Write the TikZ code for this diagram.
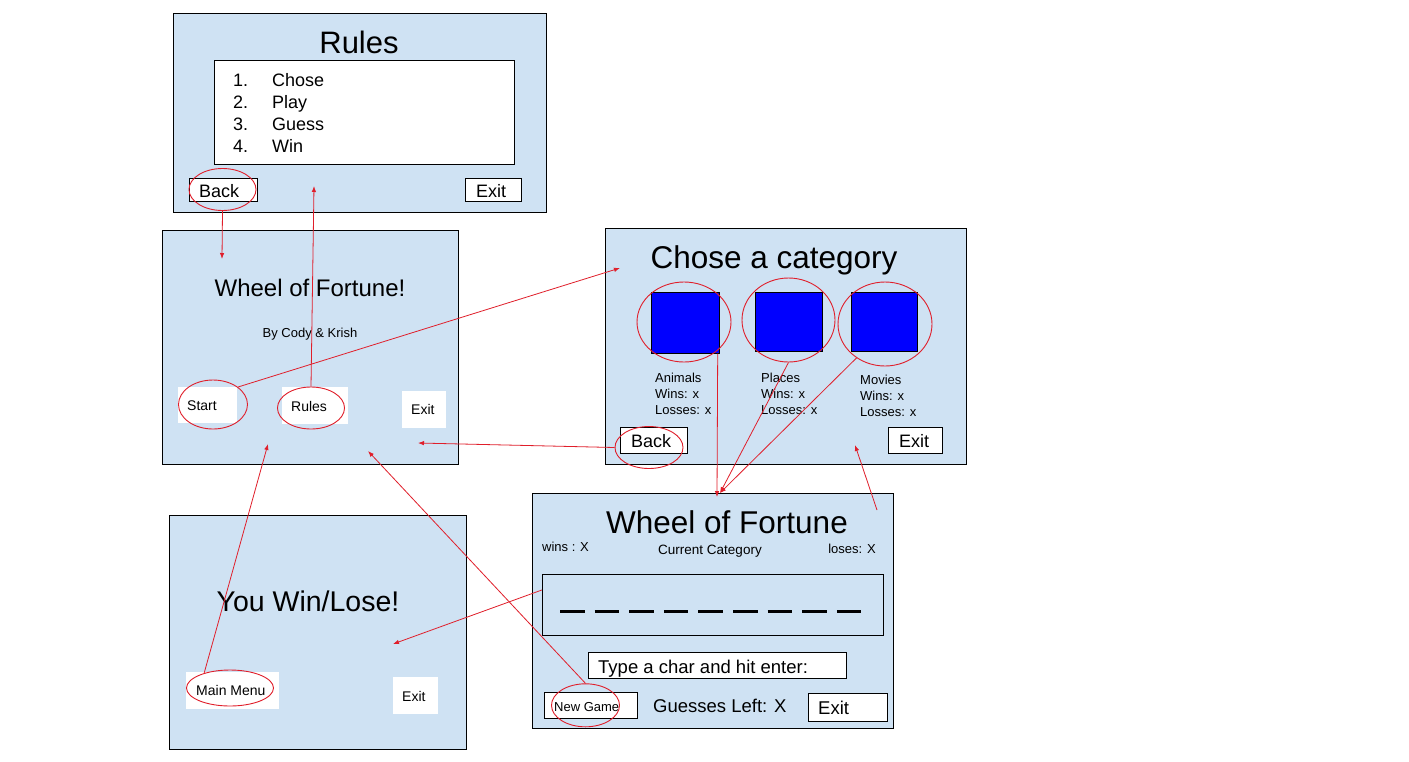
\documentclass[tikz,border=0pt]{standalone}
\usepackage{fontspec}
\setmainfont{Liberation Sans}
\usetikzlibrary{shapes.geometric,arrows.meta}
\definecolor{paneblue}{RGB}{207,226,243}
\definecolor{markred}{RGB}{224,30,42}

\tikzset{
  panel/.style={draw=black,fill=paneblue,line width=0.9pt,anchor=north west,inner sep=0pt},
  box/.style={draw=black,fill=white,line width=0.9pt,anchor=north west,inner sep=0pt},
  pad/.style={fill=white,anchor=north west,inner sep=0pt},
  tile/.style={draw=black,fill=blue,line width=0.7pt,anchor=north west,inner sep=0pt},
  ring/.style={ellipse,draw=markred,line width=0.9pt,inner sep=0pt},
  link/.style={draw=markred,line width=0.8pt,-{Latex[length=6pt,width=4.5pt]}},
  txt/.style={inner sep=0pt,font=\fontsize{#1}{#1}\selectfont},
  stats/.style={inner sep=0pt,anchor=north west,align=left,font=\fontsize{13}{16}\selectfont},
}

\begin{document}
\begin{tikzpicture}[x=1pt,y=-1pt]
\path[fill=white] (0,0) rectangle (1409,761);

% rules screen
\node[panel,minimum width=373,minimum height=199] (rulesP) at (173,13) {};
\node[txt=31,anchor=base] (rulesT) at (359,53) {Rules};
\node[box,minimum width=300,minimum height=104] (ruleList) at (214,60) {};
\foreach \w [count=\i] in {Chose,Play,Guess,Win}{
  \node[txt=18,anchor=base west] (num\i) at (233,64+22*\i) {\i.};
  \node[txt=18,anchor=base west] (rule\i) at (272,64+22*\i) {\w};
}
\node[box,minimum width=68,minimum height=23] (rBackB) at (189,178) {};
\node[txt=18,anchor=base west] (rBackT) at (199,197) {Back};
\node[box,minimum width=56,minimum height=23] (rExitB) at (465,178) {};
\node[txt=18,anchor=base west] (rExitT) at (476,197) {Exit};
\node[ring,minimum width=67,minimum height=42] (rBack) at (222.5,189.5) {};

% main menu
\node[panel,minimum width=296,minimum height=234] (menuP) at (162,230) {};
\node[txt=24,anchor=base] (menuT) at (310,296) {Wheel of Fortune!};
\node[txt=13,anchor=base] (menuBy) at (310,337) {By Cody \& Krish};
\node[pad,minimum width=59,minimum height=36] (startB) at (178,387) {};
\node[txt=14,anchor=base west] (startT) at (187,410) {Start};
\node[pad,minimum width=66,minimum height=37] (rulesB) at (282,387) {};
\node[txt=14,anchor=base west] (rulesBT) at (291,411) {Rules};
\node[pad,minimum width=44,minimum height=37] (mExitB) at (402,391) {};
\node[txt=14,anchor=base west] (mExitT) at (411,414) {Exit};
\node[ring,minimum width=69,minimum height=49] (start) at (213,404.5) {};
\node[ring,minimum width=67,minimum height=42] (rules) at (311,408) {};

% category screen
\node[panel,minimum width=361,minimum height=236] (catP) at (605,228) {};
\node[txt=31.5,anchor=base] (catT) at (774,268) {Chose a category};
\node[tile,minimum width=68,minimum height=61] (tileA) at (651,292) {};
\node[tile,minimum width=67,minimum height=59] (tileP) at (755,292) {};
\node[tile,minimum width=66,minimum height=59] (tileM) at (851,292) {};
\node[stats] (animals) at (655,372.5) {Animals\\Wins: x\\Losses: x};
\node[stats] (places) at (761,372.5) {Places\\Wins: x\\Losses: x};
\node[stats] (movies) at (860,374.5) {Movies\\Wins: x\\Losses: x};
\node[ring,minimum width=94,minimum height=80] (ringA) at (684,322) {};
\node[ring,minimum width=93,minimum height=84] (ringP) at (788.5,320) {};
\node[ring,minimum width=94,minimum height=84] (ringM) at (885,324) {};
\node[box,minimum width=67,minimum height=26] (cBackB) at (620,427) {};
\node[txt=18,anchor=base west] (cBackT) at (631,447) {Back};
\node[box,minimum width=54,minimum height=26] (cExitB) at (888,427) {};
\node[txt=18,anchor=base west] (cExitT) at (899,447) {Exit};
\node[ring,minimum width=68,minimum height=42] (cBack) at (649,447.5) {};

% game screen
\node[panel,minimum width=361,minimum height=235] (gameP) at (532,493) {};
\node[txt=31.5,anchor=base] (gameT) at (727,533) {Wheel of Fortune};
\node[txt=13,anchor=base west] (winsT) at (542,551) {wins : X};
\node[txt=13.5,anchor=base] (curCat) at (710,554) {Current Category};
\node[txt=13,anchor=base east] (losesT) at (876,553) {loses: X};
\node[panel,minimum width=341,minimum height=61] (word) at (542,574) {};
\foreach \i in {0,...,8}
  \draw[line width=3pt] (560+34.6*\i,611) -- ++(24.5,0);
\node[box,minimum width=258,minimum height=26] (entry) at (588,652) {};
\node[txt=18.5,anchor=base west] (entryT) at (598,673) {Type a char and hit enter:};
\node[box,minimum width=93,minimum height=26] (ngB) at (544,692) {};
\node[txt=13,anchor=base west] (ngT) at (554,711) {New Game};
\node[txt=18.5,anchor=base west] (guessT) at (653,712) {Guesses Left: X};
\node[box,minimum width=79,minimum height=28] (gExitB) at (808,693) {};
\node[txt=18.5,anchor=base west] (gExitT) at (818,714) {Exit};
\node[ring,minimum width=68,minimum height=43] (newGame) at (585.5,705.3) {};

% end screen
\node[panel,minimum width=297,minimum height=234] (endP) at (169,515) {};
\node[txt=28.5,anchor=base] (endT) at (308,611) {You Win/Lose!};
\node[pad,minimum width=93,minimum height=37] (menuB) at (186,672) {};
\node[txt=14,anchor=base west] (menuBT) at (196,695) {Main Menu};
\node[pad,minimum width=45,minimum height=37] (eExitB) at (393,677) {};
\node[txt=14,anchor=base west] (eExitT) at (402,701) {Exit};
\node[ring,minimum width=87,minimum height=36] (mainMenu) at (230,688) {};

% links
\coordinate (toMenuA) at (222,259);
\coordinate (toRules) at (314,186);
\coordinate (toCat) at (620,268);
\coordinate (toMenuB) at (418,443);
\coordinate (toGameA) at (717,497);
\coordinate (toGameB) at (720,493);
\coordinate (fromGame) at (877,510);
\coordinate (toCatB) at (855,445);
\coordinate (toEnd) at (393,644);
\coordinate (toMenuC) at (368,451);
\coordinate (toMenuD) at (268,444);

\draw[link] (rBack.south) -- (toMenuA);
\draw[link] (rules.north) -- (toRules);
\draw[link] (start.35) -- (toCat);
\draw[link] (cBack.west) -- (toMenuB);
\draw[link] ([xshift=-2pt]tileA.south east) -- (toGameA);
\draw[link] (ringP.south) -- (toGameB);
\draw[link] (ringM.230) -- (toGameB);
\draw[link] (fromGame) -- (toCatB);
\draw[link] ([yshift=15pt]word.west) -- (toEnd);
\draw[link] (newGame.north) -- (toMenuC);
\draw[link] (mainMenu.150) -- (toMenuD);
\end{tikzpicture}
\end{document}
